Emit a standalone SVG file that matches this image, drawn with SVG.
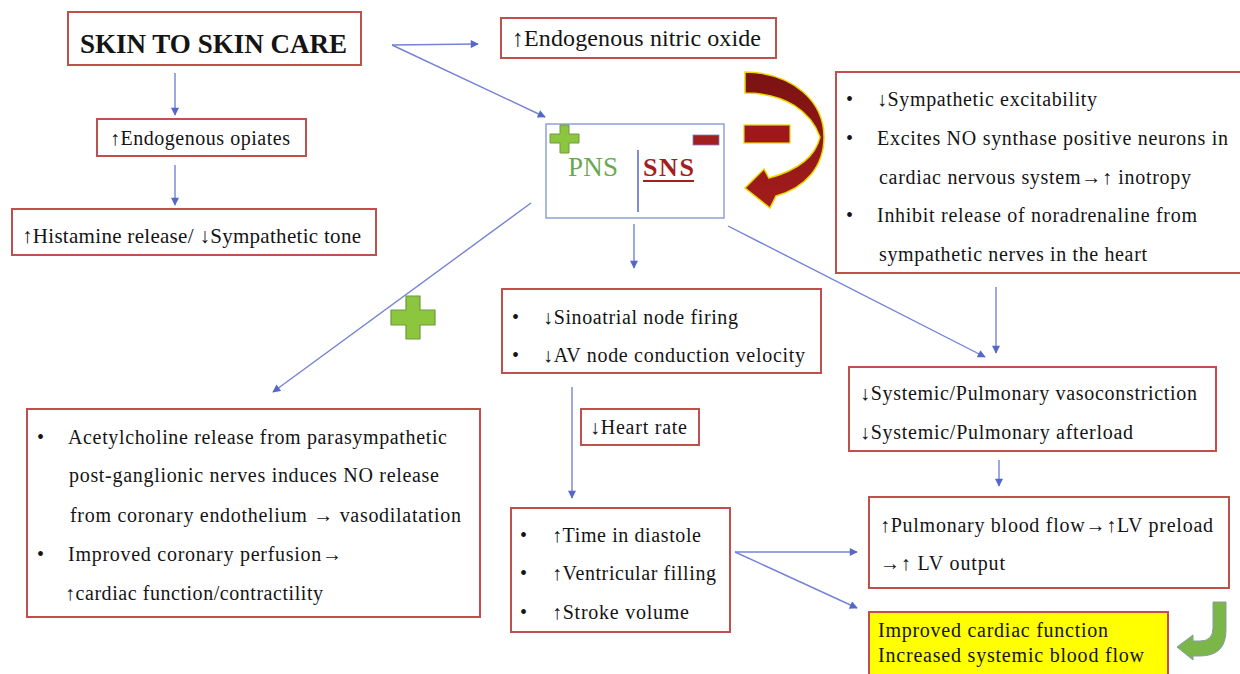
<svg xmlns="http://www.w3.org/2000/svg" width="1240" height="674" viewBox="0 0 1240 674">
<defs>
<style>
.box{fill:#fff;stroke:#c0504d;stroke-width:2}
.t{font-family:"Liberation Serif","Times New Roman",serif;font-size:20px;fill:#141414}
.conn line{stroke:#7483d4;stroke-width:1.4;fill:none;marker-end:url(#ah)}
</style>
<marker id="ah" viewBox="0 0 10 10" refX="9" refY="5" markerWidth="9" markerHeight="8" markerUnits="userSpaceOnUse" orient="auto">
<path d="M0,0 L10,5 L0,10 Z" fill="#5567c8"/>
</marker>
<linearGradient id="redg" x1="0" y1="0" x2="0" y2="1">
<stop offset="0" stop-color="#7a1212"/>
<stop offset="1" stop-color="#a51c1c"/>
</linearGradient>
</defs>
<rect width="1240" height="674" fill="#fff"/>

<g class="conn">
<line x1="175" y1="73" x2="175" y2="115"/>
<line x1="175" y1="165" x2="175" y2="205"/>
<line x1="392" y1="45" x2="478" y2="44"/>
<line x1="392" y1="45" x2="545" y2="117"/>
<line x1="531" y1="203" x2="273" y2="392"/>
<line x1="634" y1="224" x2="634" y2="268"/>
<line x1="728" y1="226" x2="985" y2="357"/>
<line x1="996" y1="287" x2="996" y2="353"/>
<line x1="572" y1="387" x2="572" y2="498"/>
<line x1="999" y1="460" x2="999" y2="486"/>
<line x1="735" y1="552" x2="857" y2="552"/>
<line x1="735" y1="552" x2="857" y2="608"/>
</g>

<g id="skin">
<rect class="box" x="68" y="12" width="293" height="53"/>
<text x="80" y="53" font-family="Liberation Serif,serif" font-size="27" font-weight="bold" fill="#141414" textLength="267" lengthAdjust="spacingAndGlyphs">SKIN TO SKIN CARE</text>
</g>

<g id="opiates">
<rect class="box" x="97" y="119" width="209" height="37"/>
<text class="t" x="110" y="145" textLength="180">↑Endogenous opiates</text>
</g>

<g id="histamine">
<rect class="box" x="12" y="209" width="364" height="46"/>
<text class="t" x="22" y="243" style="font-size:21px" textLength="339">↑Histamine release/ ↓Sympathetic tone</text>
</g>

<g id="nitric">
<rect class="box" x="501" y="18" width="275" height="40"/>
<text class="t" x="512" y="46" style="font-size:24px" textLength="249">↑Endogenous nitric oxide</text>
</g>

<g id="pns-sns">
<rect x="546" y="124" width="178" height="94" fill="#fff" stroke="#8ea0d8" stroke-width="1.5"/>
<path d="M560,125 h9 v9 h10 v9 h-10 v10 h-9 v-10 h-10 v-9 h10 Z" fill="#8cc63f" stroke="#6f9a3a" stroke-width="1"/>
<rect x="693" y="135" width="26" height="10" fill="#a31f1f" stroke="#7a82c8" stroke-width="0.8"/>
<text x="568" y="176" font-family="Liberation Serif,serif" font-size="27" fill="#6aa84f" textLength="50">PNS</text>
<line x1="638" y1="150" x2="638" y2="212" stroke="#5567c8" stroke-width="1.5"/>
<text x="643" y="176" font-family="Liberation Serif,serif" font-size="26" font-weight="bold" fill="#a31f1f" textLength="51">SNS</text>
<line x1="643" y1="181" x2="694" y2="181" stroke="#a31f1f" stroke-width="2"/>
</g>

<g id="red-arrow">
<path d="M745,72 C794,73 824,102 824,137 C824,167 805,188 776,196 L770,208 L745,188 L764,169 L769,178 C795,171 815,158 820,137 C811,112 786,93 745,93 Z" fill="url(#redg)" stroke="#e8d800" stroke-width="1.5"/>
<rect x="744" y="125" width="46" height="18" fill="#a0171b" stroke="#e8d800" stroke-width="1.2"/>
</g>

<g id="sns-effects">
<rect class="box" x="836" y="72" width="410" height="201"/>
<text class="t" x="846" y="106">•</text>
<text class="t" x="877" y="106" textLength="220">↓Sympathetic excitability</text>
<text class="t" x="846" y="145">•</text>
<text class="t" x="877" y="145" textLength="351">Excites NO synthase positive neurons in</text>
<text class="t" x="879" y="184" textLength="312">cardiac nervous system→↑ inotropy</text>
<text class="t" x="846" y="222">•</text>
<text class="t" x="877" y="222" textLength="320">Inhibit release of noradrenaline from</text>
<text class="t" x="879" y="261" textLength="268">sympathetic nerves in the heart</text>
</g>

<g id="plus-big">
<path d="M406,296 h14 v14 h15 v15 h-15 v14 h-14 v-14 h-15 v-15 h15 Z" fill="#8cc63f" stroke="#6f9a3a" stroke-width="1.2"/>
</g>

<g id="pns-effects">
<rect class="box" x="27" y="409" width="453" height="208"/>
<text class="t" x="37" y="444">•</text>
<text class="t" x="68" y="444" textLength="379">Acetylcholine release from parasympathetic</text>
<text class="t" x="69" y="482" textLength="370">post-ganglionic nerves induces NO release</text>
<text class="t" x="70" y="522" textLength="391">from coronary endothelium → vasodilatation</text>
<text class="t" x="37" y="561">•</text>
<text class="t" x="68" y="561" textLength="274">Improved coronary perfusion→</text>
<text class="t" x="65" y="600" textLength="258">↑cardiac function/contractility</text>
</g>

<g id="sa-node">
<rect class="box" x="502" y="289" width="319" height="84"/>
<text class="t" x="512" y="324">•</text>
<text class="t" x="543" y="324" textLength="195">↓Sinoatrial node firing</text>
<text class="t" x="512" y="362">•</text>
<text class="t" x="543" y="362" textLength="262">↓AV node conduction velocity</text>
</g>

<g id="heart-rate">
<rect class="box" x="581" y="409" width="118" height="36"/>
<text class="t" x="590" y="434" textLength="97">↓Heart rate</text>
</g>

<g id="diastole">
<rect class="box" x="511" y="508" width="219" height="124"/>
<text class="t" x="520" y="542">•</text>
<text class="t" x="552" y="542" textLength="149">↑Time in diastole</text>
<text class="t" x="520" y="580">•</text>
<text class="t" x="552" y="580" textLength="164">↑Ventricular filling</text>
<text class="t" x="520" y="619">•</text>
<text class="t" x="552" y="619" textLength="137">↑Stroke volume</text>
</g>

<g id="vasoconstriction">
<rect class="box" x="849" y="367" width="367" height="84"/>
<text class="t" x="860" y="400" textLength="337">↓Systemic/Pulmonary vasoconstriction</text>
<text class="t" x="860" y="439" textLength="273">↓Systemic/Pulmonary afterload</text>
</g>

<g id="pulmonary">
<rect class="box" x="869" y="497" width="360" height="91"/>
<text class="t" x="880" y="532" textLength="333">↑Pulmonary blood flow→↑LV preload</text>
<text class="t" x="880" y="570" textLength="125">→↑ LV output</text>
</g>

<g id="outcome">
<rect x="869" y="612" width="299" height="66" fill="#ffff00" stroke="#c0504d" stroke-width="2"/>
<text class="t" x="878" y="637" textLength="230">Improved cardiac function</text>
<text class="t" x="878" y="662" textLength="266">Increased systemic blood flow</text>
</g>

<g id="green-arrow">
<path d="M1213,602 L1226,602 L1226,630 Q1226,656 1200,656 L1193,656 L1193,660 L1177,647 L1193,635 L1193,641 L1200,641 Q1213,641 1213,628 Z" fill="#7ab648" stroke="#8a9aa8" stroke-width="1"/>
</g>
</svg>
